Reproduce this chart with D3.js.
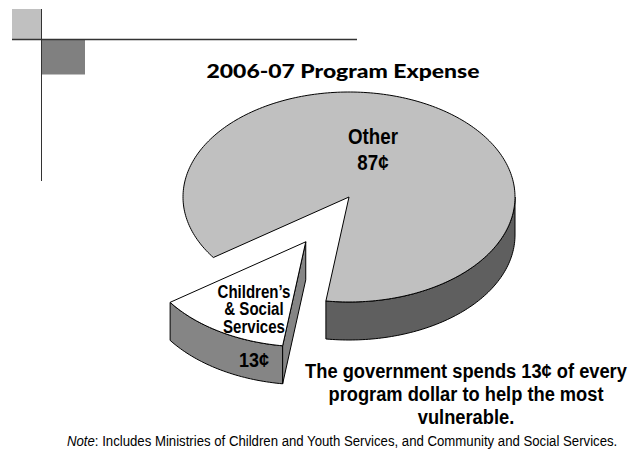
<!DOCTYPE html>
<html>
<head>
<meta charset="utf-8">
<script src="https://cdn.jsdelivr.net/npm/d3@7"></script>
<style>
  html, body { margin: 0; padding: 0; background: #fff; }
  svg { display: block; }
  .lbl { font-family: "Liberation Sans", Arial, sans-serif; font-weight: bold; fill: #000; }
</style>
</head>
<body>
<svg id="chart" width="631" height="474"></svg>
<script>
// Program expense shares, in cents of every program dollar
const categories = ["Children’s & Social Services", "Other"];
const values = [13, 87];
const valueLabels = ["13¢", "87¢"];
const sliceNames = [["Children’s", "& Social", "Services"], ["Other"]];
const title = "2006-07 Program Expense";
const message = ["The government spends 13¢ of every", "program dollar to help the most", "vulnerable."];
const noteLead = "Note";
const noteText = ": Includes Ministries of Children and Youth Services, and Community and Social Services.";

const W = 631, H = 474;
const svg = d3.select("#chart");

// squeeze a text element horizontally about ax so that its reference line gets the given width
function condense(sel, ax, refNode, width) {
  const natural = refNode.getComputedTextLength();
  const k = width / natural;
  sel.attr("transform", `translate(${ax},0) scale(${k},1) translate(${-ax},0)`);
}

// Corner decoration
svg.append("rect").attr("x", 12).attr("y", 9).attr("width", 29).attr("height", 30).attr("fill", "#c0c0c0");
svg.append("rect").attr("x", 41).attr("y", 39.5).attr("width", 44).attr("height", 35).attr("fill", "#808080");
svg.append("line").attr("x1", 12).attr("x2", 357).attr("y1", 39.5).attr("y2", 39.5)
  .attr("stroke", "#333").attr("stroke-width", 1.3);
svg.append("line").attr("x1", 41.5).attr("x2", 41.5).attr("y1", 9).attr("y2", 181)
  .attr("stroke", "#333").attr("stroke-width", 1);

// Title
svg.append("text").attr("x", 343).attr("y", 78).attr("text-anchor", "middle")
  .style("font-family", "Lato, 'Open Sans', sans-serif").style("font-weight", "900")
  .style("font-size", "19px").attr("textLength", 273).attr("lengthAdjust", "spacingAndGlyphs")
  .text(title);

// 3D pie geometry
const cx = 349, cy = 197, rx = 166, ry = 105, depth = 38;
const startDeg = 188;
const pie = d3.pie().sort(null)
  .startAngle(startDeg * Math.PI / 180)
  .endAngle(startDeg * Math.PI / 180 + 2 * Math.PI);
const arcs = pie(values);

// explode the smaller slice outward along its mid angle
const explode = [0.5, 0];
const pt = (a, r, ox, oy, dy) => [ox + rx * r * Math.sin(a), oy - ry * r * Math.cos(a) + (dy || 0)];
const sample = (a0, a1) => {
  const n = Math.max(2, Math.ceil(Math.abs(a1 - a0) / 0.02));
  return d3.range(n + 1).map(i => a0 + (a1 - a0) * i / n);
};
const line = d3.line().curve(d3.curveLinear);

const topFill = ["#ffffff", "#c0c0c0"];
const wallFill = ["#858585", "#5f5f5f"];

const slices = arcs.map((d, i) => {
  const mid = (d.startAngle + d.endAngle) / 2;
  const ox = cx + explode[i] * rx * Math.sin(mid);
  const oy = cy - explode[i] * ry * Math.cos(mid);
  return { d, i, ox, oy, mid };
});

// front wall range: the part of the slice facing the viewer next to its end edge
function wallRange(d) {
  const k = Math.floor((d.endAngle - Math.PI / 2) / (2 * Math.PI));
  const lo = Math.PI / 2 + k * 2 * Math.PI, hi = 3 * Math.PI / 2 + k * 2 * Math.PI;
  const s = Math.max(d.startAngle, lo), e = Math.min(d.endAngle, hi);
  return e > s ? [s, e] : null;
}

// draw the back (main) slice first, exploded slice in front
[1, 0].forEach(i => {
  const s = slices[i], d = s.d;
  const g = svg.append("g").attr("class", "slice");
  const wr = wallRange(d);
  if (wr) {
    const as = sample(wr[0], wr[1]);
    const pts = as.map(a => pt(a, 1, s.ox, s.oy))
      .concat(as.slice().reverse().map(a => pt(a, 1, s.ox, s.oy, depth)));
    g.append("path").attr("d", line(pts) + "Z")
      .attr("fill", wallFill[i]).attr("stroke", "#000").attr("stroke-width", 1)
      .attr("stroke-linejoin", "round");
  }
  if (explode[i] > 0) {
    // radial cut face along the start edge
    const face = [pt(0, 0, s.ox, s.oy), pt(d.startAngle, 1, s.ox, s.oy),
                  pt(d.startAngle, 1, s.ox, s.oy, depth), pt(0, 0, s.ox, s.oy, depth)];
    g.append("path").attr("d", line(face) + "Z")
      .attr("fill", wallFill[i]).attr("stroke", "#000").attr("stroke-width", 1)
      .attr("stroke-linejoin", "round");
  }
  const topPts = [pt(0, 0, s.ox, s.oy)].concat(sample(d.startAngle, d.endAngle).map(a => pt(a, 1, s.ox, s.oy)));
  g.append("path").attr("d", line(topPts) + "Z")
    .attr("fill", topFill[i]).attr("stroke", "#000").attr("stroke-width", 1)
    .attr("stroke-linejoin", "round");
});

// Slice labels
const oLab = svg.append("text").attr("class", "lbl").attr("text-anchor", "middle").style("font-size", "22px");
const oName = oLab.append("tspan").attr("x", 373).attr("y", 144).text(sliceNames[1][0]);
oLab.append("tspan").attr("x", 373).attr("y", 170).text(valueLabels[1]);
condense(oLab, 373, oName.node(), 50);

const cLab = svg.append("text").attr("class", "lbl").attr("text-anchor", "middle").style("font-size", "18px");
const cLines = sliceNames[0].map((t, j) =>
  cLab.append("tspan").attr("x", 254).attr("y", 298 + j * 17.5).text(t));
condense(cLab, 254, cLines[0].node(), 73);

const cVal = svg.append("text").attr("class", "lbl").attr("text-anchor", "middle").style("font-size", "21px")
  .attr("x", 254).attr("y", 367).text(valueLabels[0]);
condense(cVal, 254, cVal.node(), 30);

// Message
const msg = svg.append("text").attr("class", "lbl").attr("text-anchor", "middle").style("font-size", "21px");
const mLines = message.map((t, j) =>
  msg.append("tspan").attr("x", 466).attr("y", 378 + j * 23).text(t));
condense(msg, 466, mLines[0].node(), 322);

// Note
const note = svg.append("text").attr("x", 67).attr("y", 446)
  .style("font-family", "'Liberation Sans', Arial, sans-serif")
  .style("font-size", "15px").attr("fill", "#000");
note.append("tspan").style("font-style", "italic").text(noteLead);
note.append("tspan").text(noteText);
condense(note, 67, note.node(), 551);
</script>
</body>
</html>
